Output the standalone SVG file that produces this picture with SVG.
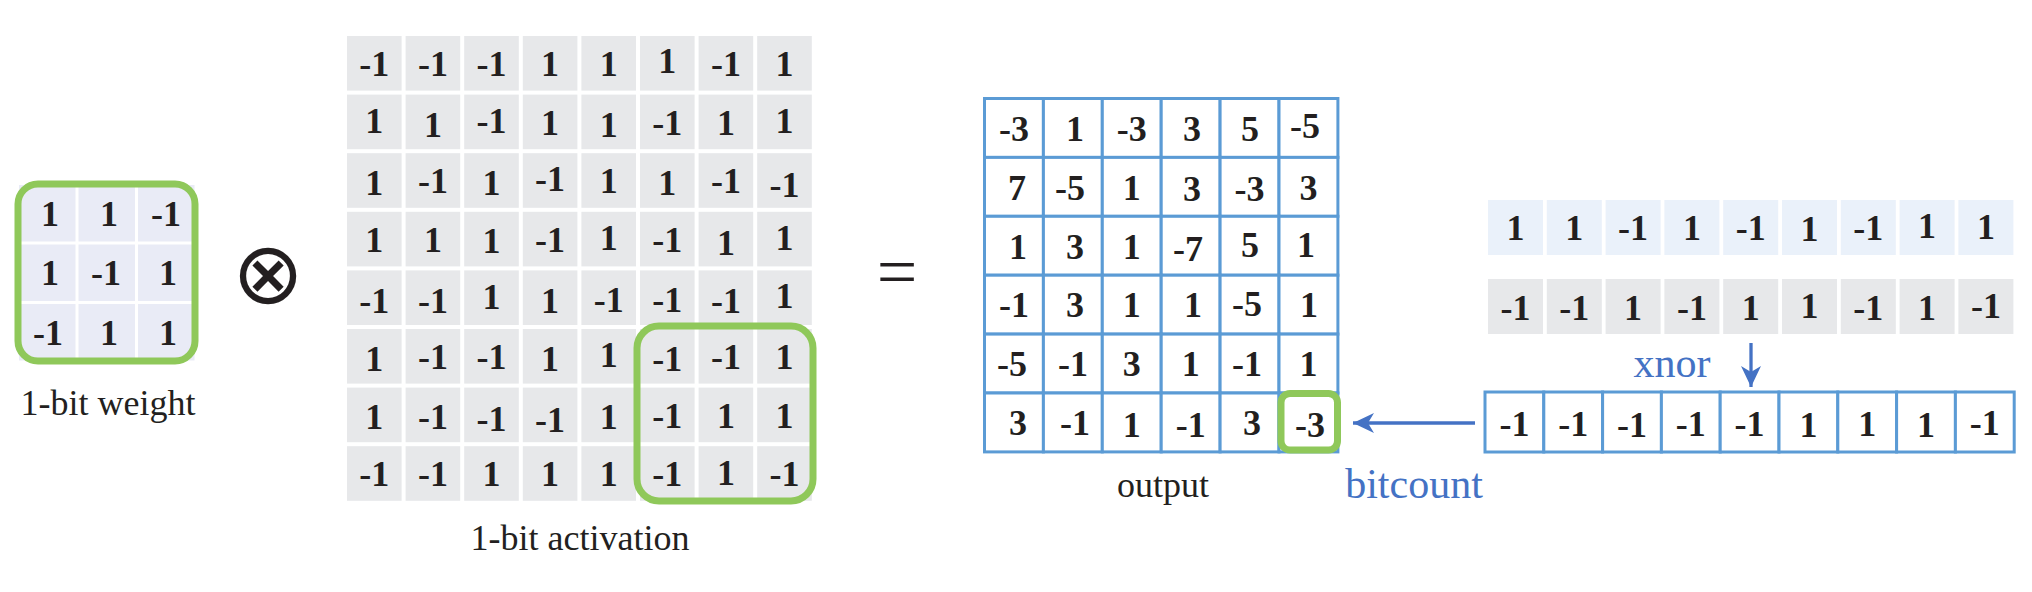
<svg xmlns="http://www.w3.org/2000/svg" width="2032" height="592" viewBox="0 0 2032 592">
<style>
.n{font-family:"Liberation Serif","Times New Roman",serif;font-weight:bold;font-size:36px;fill:#231f20;text-anchor:middle}
.lbl{font-family:"Liberation Serif","Times New Roman",serif;font-size:36px;fill:#231f20;text-anchor:middle}
.blue{font-family:"Liberation Serif","Times New Roman",serif;font-size:42px;fill:#4472c4;text-anchor:middle}
.cw{fill:#e9ebf6}
.ca{fill:#e7e8ea}
.cb{fill:#eaf1fa}
.co{fill:#ffffff;stroke:#5b9bd5;stroke-width:3}
.g{fill:none;stroke:#8fc85a;stroke-width:7}
.arr{fill:none;stroke:#4472c4;stroke-width:3.3}
</style>
<defs>
<marker id="ah" markerUnits="userSpaceOnUse" markerWidth="24" markerHeight="24" viewBox="-22 -12 24 24" refX="0" refY="0" orient="auto">
<path d="M0,0 L-21,-10 L-15,0 L-21,10 Z" fill="#4472c4"/>
</marker>
</defs>
<rect width="2032" height="592" fill="#ffffff"/>

<g id="weight">
<rect class="cw" x="19" y="185" width="56.5" height="56.5"/><rect class="cw" x="78.5" y="185" width="56.5" height="56.5"/><rect class="cw" x="138" y="185" width="56.5" height="56.5"/>
<rect class="cw" x="19" y="244.5" width="56.5" height="56.5"/><rect class="cw" x="78.5" y="244.5" width="56.5" height="56.5"/><rect class="cw" x="138" y="244.5" width="56.5" height="56.5"/>
<rect class="cw" x="19" y="304" width="56.5" height="56.5"/><rect class="cw" x="78.5" y="304" width="56.5" height="56.5"/><rect class="cw" x="138" y="304" width="56.5" height="56.5"/>
<text class="n" x="50" y="225.5">1</text><text class="n" x="109" y="225.5">1</text><text class="n" x="166" y="225.5">-1</text>
<text class="n" x="50" y="285">1</text><text class="n" x="106" y="285">-1</text><text class="n" x="168" y="285">1</text>
<text class="n" x="48" y="344.5">-1</text><text class="n" x="109" y="344.5">1</text><text class="n" x="168" y="344.5">1</text>
<rect class="g" x="18" y="184" width="177" height="177" rx="20"/>
<text class="lbl" x="108" y="415">1-bit weight</text>
</g>

<g id="otimes">
<text x="268" y="303" style="font-family:'DejaVu Sans',sans-serif;font-size:86px;fill:#231f20;text-anchor:middle">⊗</text>
</g>

<g id="activation">
<rect class="ca" x="347" y="36" width="54.6" height="54.6"/><rect class="ca" x="405.6" y="36" width="54.6" height="54.6"/><rect class="ca" x="464.2" y="36" width="54.6" height="54.6"/><rect class="ca" x="522.8" y="36" width="54.6" height="54.6"/><rect class="ca" x="581.4" y="36" width="54.6" height="54.6"/><rect class="ca" x="640" y="36" width="54.6" height="54.6"/><rect class="ca" x="698.6" y="36" width="54.6" height="54.6"/><rect class="ca" x="757.2" y="36" width="54.6" height="54.6"/>
<rect class="ca" x="347" y="94.6" width="54.6" height="54.6"/><rect class="ca" x="405.6" y="94.6" width="54.6" height="54.6"/><rect class="ca" x="464.2" y="94.6" width="54.6" height="54.6"/><rect class="ca" x="522.8" y="94.6" width="54.6" height="54.6"/><rect class="ca" x="581.4" y="94.6" width="54.6" height="54.6"/><rect class="ca" x="640" y="94.6" width="54.6" height="54.6"/><rect class="ca" x="698.6" y="94.6" width="54.6" height="54.6"/><rect class="ca" x="757.2" y="94.6" width="54.6" height="54.6"/>
<rect class="ca" x="347" y="153.2" width="54.6" height="54.6"/><rect class="ca" x="405.6" y="153.2" width="54.6" height="54.6"/><rect class="ca" x="464.2" y="153.2" width="54.6" height="54.6"/><rect class="ca" x="522.8" y="153.2" width="54.6" height="54.6"/><rect class="ca" x="581.4" y="153.2" width="54.6" height="54.6"/><rect class="ca" x="640" y="153.2" width="54.6" height="54.6"/><rect class="ca" x="698.6" y="153.2" width="54.6" height="54.6"/><rect class="ca" x="757.2" y="153.2" width="54.6" height="54.6"/>
<rect class="ca" x="347" y="211.8" width="54.6" height="54.6"/><rect class="ca" x="405.6" y="211.8" width="54.6" height="54.6"/><rect class="ca" x="464.2" y="211.8" width="54.6" height="54.6"/><rect class="ca" x="522.8" y="211.8" width="54.6" height="54.6"/><rect class="ca" x="581.4" y="211.8" width="54.6" height="54.6"/><rect class="ca" x="640" y="211.8" width="54.6" height="54.6"/><rect class="ca" x="698.6" y="211.8" width="54.6" height="54.6"/><rect class="ca" x="757.2" y="211.8" width="54.6" height="54.6"/>
<rect class="ca" x="347" y="270.4" width="54.6" height="54.6"/><rect class="ca" x="405.6" y="270.4" width="54.6" height="54.6"/><rect class="ca" x="464.2" y="270.4" width="54.6" height="54.6"/><rect class="ca" x="522.8" y="270.4" width="54.6" height="54.6"/><rect class="ca" x="581.4" y="270.4" width="54.6" height="54.6"/><rect class="ca" x="640" y="270.4" width="54.6" height="54.6"/><rect class="ca" x="698.6" y="270.4" width="54.6" height="54.6"/><rect class="ca" x="757.2" y="270.4" width="54.6" height="54.6"/>
<rect class="ca" x="347" y="329" width="54.6" height="54.6"/><rect class="ca" x="405.6" y="329" width="54.6" height="54.6"/><rect class="ca" x="464.2" y="329" width="54.6" height="54.6"/><rect class="ca" x="522.8" y="329" width="54.6" height="54.6"/><rect class="ca" x="581.4" y="329" width="54.6" height="54.6"/><rect class="ca" x="640" y="329" width="54.6" height="54.6"/><rect class="ca" x="698.6" y="329" width="54.6" height="54.6"/><rect class="ca" x="757.2" y="329" width="54.6" height="54.6"/>
<rect class="ca" x="347" y="387.6" width="54.6" height="54.6"/><rect class="ca" x="405.6" y="387.6" width="54.6" height="54.6"/><rect class="ca" x="464.2" y="387.6" width="54.6" height="54.6"/><rect class="ca" x="522.8" y="387.6" width="54.6" height="54.6"/><rect class="ca" x="581.4" y="387.6" width="54.6" height="54.6"/><rect class="ca" x="640" y="387.6" width="54.6" height="54.6"/><rect class="ca" x="698.6" y="387.6" width="54.6" height="54.6"/><rect class="ca" x="757.2" y="387.6" width="54.6" height="54.6"/>
<rect class="ca" x="347" y="446.2" width="54.6" height="54.6"/><rect class="ca" x="405.6" y="446.2" width="54.6" height="54.6"/><rect class="ca" x="464.2" y="446.2" width="54.6" height="54.6"/><rect class="ca" x="522.8" y="446.2" width="54.6" height="54.6"/><rect class="ca" x="581.4" y="446.2" width="54.6" height="54.6"/><rect class="ca" x="640" y="446.2" width="54.6" height="54.6"/><rect class="ca" x="698.6" y="446.2" width="54.6" height="54.6"/><rect class="ca" x="757.2" y="446.2" width="54.6" height="54.6"/>

<text class="n" x="374.3" y="76">-1</text><text class="n" x="432.9" y="76">-1</text><text class="n" x="491.5" y="76">-1</text><text class="n" x="550.1" y="76">1</text><text class="n" x="608.7" y="76">1</text><text class="n" x="667.3" y="72.7">1</text><text class="n" x="725.9" y="76">-1</text><text class="n" x="784.5" y="76">1</text>
<text class="n" x="374.3" y="132.7">1</text><text class="n" x="432.9" y="136.7">1</text><text class="n" x="491.5" y="132.7">-1</text><text class="n" x="550.1" y="134.6">1</text><text class="n" x="608.7" y="136.7">1</text><text class="n" x="667.3" y="134.6">-1</text><text class="n" x="725.9" y="134.6">1</text><text class="n" x="784.5" y="132.7">1</text>
<text class="n" x="374.3" y="194.7">1</text><text class="n" x="432.9" y="193.2">-1</text><text class="n" x="491.5" y="194.7">1</text><text class="n" x="550.1" y="190.7">-1</text><text class="n" x="608.7" y="193.2">1</text><text class="n" x="667.3" y="194.7">1</text><text class="n" x="725.9" y="193.2">-1</text><text class="n" x="784.5" y="196.7">-1</text>
<text class="n" x="374.3" y="251.8">1</text><text class="n" x="432.9" y="251.8">1</text><text class="n" x="491.5" y="252.7">1</text><text class="n" x="550.1" y="251.8">-1</text><text class="n" x="608.7" y="249.7">1</text><text class="n" x="667.3" y="251.8">-1</text><text class="n" x="725.9" y="254.7">1</text><text class="n" x="784.5" y="249.7">1</text>
<text class="n" x="374.3" y="312.7">-1</text><text class="n" x="432.9" y="312.7">-1</text><text class="n" x="491.5" y="308.7">1</text><text class="n" x="550.1" y="312.7">1</text><text class="n" x="608.7" y="311.7">-1</text><text class="n" x="667.3" y="311.7">-1</text><text class="n" x="725.9" y="312.7">-1</text><text class="n" x="784.5" y="307.7">1</text>
<text class="n" x="374.3" y="370.7">1</text><text class="n" x="432.9" y="369">-1</text><text class="n" x="491.5" y="369">-1</text><text class="n" x="550.1" y="370.7">1</text><text class="n" x="608.7" y="366.7">1</text><text class="n" x="667.3" y="370.7">-1</text><text class="n" x="725.9" y="369">-1</text><text class="n" x="784.5" y="369">1</text>
<text class="n" x="374.3" y="428.7">1</text><text class="n" x="432.9" y="428.7">-1</text><text class="n" x="491.5" y="430.7">-1</text><text class="n" x="550.1" y="431.7">-1</text><text class="n" x="608.7" y="428.7">1</text><text class="n" x="667.3" y="427.6">-1</text><text class="n" x="725.9" y="427.6">1</text><text class="n" x="784.5" y="427.6">1</text>
<text class="n" x="374.3" y="486.2">-1</text><text class="n" x="432.9" y="486.2">-1</text><text class="n" x="491.5" y="486.2">1</text><text class="n" x="550.1" y="486.2">1</text><text class="n" x="608.7" y="486.2">1</text><text class="n" x="667.3" y="486.2">-1</text><text class="n" x="725.9" y="484.7">1</text><text class="n" x="784.5" y="486.2">-1</text>
<rect class="g" x="637" y="326" width="176" height="175" rx="22"/>
<text class="lbl" x="580" y="550">1-bit activation</text>
</g>

<g id="equals">
<text x="897" y="296" style="font-family:'Liberation Serif','Times New Roman',serif;font-size:72px;fill:#231f20;text-anchor:middle">=</text>
</g>

<g id="output">
<rect class="co" x="984.5" y="98.5" width="58.9" height="58.9"/><rect class="co" x="1043.4" y="98.5" width="58.9" height="58.9"/><rect class="co" x="1102.3" y="98.5" width="58.9" height="58.9"/><rect class="co" x="1161.2" y="98.5" width="58.9" height="58.9"/><rect class="co" x="1220.1" y="98.5" width="58.9" height="58.9"/><rect class="co" x="1279" y="98.5" width="58.9" height="58.9"/>
<rect class="co" x="984.5" y="157.4" width="58.9" height="58.9"/><rect class="co" x="1043.4" y="157.4" width="58.9" height="58.9"/><rect class="co" x="1102.3" y="157.4" width="58.9" height="58.9"/><rect class="co" x="1161.2" y="157.4" width="58.9" height="58.9"/><rect class="co" x="1220.1" y="157.4" width="58.9" height="58.9"/><rect class="co" x="1279" y="157.4" width="58.9" height="58.9"/>
<rect class="co" x="984.5" y="216.3" width="58.9" height="58.9"/><rect class="co" x="1043.4" y="216.3" width="58.9" height="58.9"/><rect class="co" x="1102.3" y="216.3" width="58.9" height="58.9"/><rect class="co" x="1161.2" y="216.3" width="58.9" height="58.9"/><rect class="co" x="1220.1" y="216.3" width="58.9" height="58.9"/><rect class="co" x="1279" y="216.3" width="58.9" height="58.9"/>
<rect class="co" x="984.5" y="275.2" width="58.9" height="58.9"/><rect class="co" x="1043.4" y="275.2" width="58.9" height="58.9"/><rect class="co" x="1102.3" y="275.2" width="58.9" height="58.9"/><rect class="co" x="1161.2" y="275.2" width="58.9" height="58.9"/><rect class="co" x="1220.1" y="275.2" width="58.9" height="58.9"/><rect class="co" x="1279" y="275.2" width="58.9" height="58.9"/>
<rect class="co" x="984.5" y="334.1" width="58.9" height="58.9"/><rect class="co" x="1043.4" y="334.1" width="58.9" height="58.9"/><rect class="co" x="1102.3" y="334.1" width="58.9" height="58.9"/><rect class="co" x="1161.2" y="334.1" width="58.9" height="58.9"/><rect class="co" x="1220.1" y="334.1" width="58.9" height="58.9"/><rect class="co" x="1279" y="334.1" width="58.9" height="58.9"/>
<rect class="co" x="984.5" y="393" width="58.9" height="58.9"/><rect class="co" x="1043.4" y="393" width="58.9" height="58.9"/><rect class="co" x="1102.3" y="393" width="58.9" height="58.9"/><rect class="co" x="1161.2" y="393" width="58.9" height="58.9"/><rect class="co" x="1220.1" y="393" width="58.9" height="58.9"/><rect class="co" x="1279" y="393" width="58.9" height="58.9"/>
<text class="n" x="1014" y="140.7">-3</text><text class="n" x="1075" y="140.7">1</text><text class="n" x="1131.8" y="140.7">-3</text><text class="n" x="1192" y="140.7">3</text><text class="n" x="1250" y="140.7">5</text><text class="n" x="1305" y="137.7">-5</text>
<text class="n" x="1017" y="199.6">7</text><text class="n" x="1070" y="199.6">-5</text><text class="n" x="1131.8" y="199.6">1</text><text class="n" x="1192" y="200.7">3</text><text class="n" x="1249.6" y="200.7">-3</text><text class="n" x="1308.5" y="199.6">3</text>
<text class="n" x="1018" y="258.7">1</text><text class="n" x="1075" y="258.7">3</text><text class="n" x="1131.8" y="258.7">1</text><text class="n" x="1188" y="260.7">-7</text><text class="n" x="1250" y="256.7">5</text><text class="n" x="1306" y="256.7">1</text>
<text class="n" x="1014" y="317.4">-1</text><text class="n" x="1075" y="317.4">3</text><text class="n" x="1131.8" y="317.4">1</text><text class="n" x="1193" y="317.4">1</text><text class="n" x="1247" y="315.7">-5</text><text class="n" x="1309" y="317.4">1</text>
<text class="n" x="1012" y="376.3">-5</text><text class="n" x="1072.9" y="376.3">-1</text><text class="n" x="1131.8" y="376.3">3</text><text class="n" x="1190.7" y="376.3">1</text><text class="n" x="1247" y="376.3">-1</text><text class="n" x="1308.5" y="376.3">1</text>
<text class="n" x="1018" y="435.2">3</text><text class="n" x="1075" y="435.2">-1</text><text class="n" x="1131.8" y="436.7">1</text><text class="n" x="1190.7" y="436.7">-1</text><text class="n" x="1252" y="435.2">3</text><text class="n" x="1310" y="436.7">-3</text>
<rect class="g" x="1281" y="393.5" width="56.5" height="56.5" rx="9"/>
<text class="lbl" x="1163" y="497">output</text>
</g>

<g id="vector-weight">
<rect class="cb" x="1488" y="200" width="55" height="55"/><rect class="cb" x="1546.8" y="200" width="55" height="55"/><rect class="cb" x="1605.6" y="200" width="55" height="55"/><rect class="cb" x="1664.4" y="200" width="55" height="55"/><rect class="cb" x="1723.2" y="200" width="55" height="55"/><rect class="cb" x="1782" y="200" width="55" height="55"/><rect class="cb" x="1840.8" y="200" width="55" height="55"/><rect class="cb" x="1899.6" y="200" width="55" height="55"/><rect class="cb" x="1958.4" y="200" width="55" height="55"/>
<text class="n" x="1515.5" y="240.2">1</text><text class="n" x="1574.3" y="240.2">1</text><text class="n" x="1633.1" y="240.2">-1</text><text class="n" x="1691.9" y="240.2">1</text><text class="n" x="1750.7" y="240.2">-1</text><text class="n" x="1809.5" y="241.2">1</text><text class="n" x="1868.3" y="240.2">-1</text><text class="n" x="1927.1" y="238.2">1</text><text class="n" x="1985.9" y="239.2">1</text>
</g>

<g id="vector-activation">
<rect class="ca" x="1488" y="279" width="55" height="55"/><rect class="ca" x="1546.8" y="279" width="55" height="55"/><rect class="ca" x="1605.6" y="279" width="55" height="55"/><rect class="ca" x="1664.4" y="279" width="55" height="55"/><rect class="ca" x="1723.2" y="279" width="55" height="55"/><rect class="ca" x="1782" y="279" width="55" height="55"/><rect class="ca" x="1840.8" y="279" width="55" height="55"/><rect class="ca" x="1899.6" y="279" width="55" height="55"/><rect class="ca" x="1958.4" y="279" width="55" height="55"/>
<text class="n" x="1515.5" y="319.7">-1</text><text class="n" x="1574.3" y="319.7">-1</text><text class="n" x="1633.1" y="319.7">1</text><text class="n" x="1691.9" y="319.7">-1</text><text class="n" x="1750.7" y="319.7">1</text><text class="n" x="1809.5" y="317.7">1</text><text class="n" x="1868.3" y="319.7">-1</text><text class="n" x="1927.1" y="319.7">1</text><text class="n" x="1985.9" y="317.7">-1</text>
</g>

<g id="vector-xnor">
<rect class="co" x="1485" y="392" width="58.8" height="60"/><rect class="co" x="1543.8" y="392" width="58.8" height="60"/><rect class="co" x="1602.6" y="392" width="58.8" height="60"/><rect class="co" x="1661.4" y="392" width="58.8" height="60"/><rect class="co" x="1720.2" y="392" width="58.8" height="60"/><rect class="co" x="1779" y="392" width="58.8" height="60"/><rect class="co" x="1837.8" y="392" width="58.8" height="60"/><rect class="co" x="1896.6" y="392" width="58.8" height="60"/><rect class="co" x="1955.4" y="392" width="58.8" height="60"/>
<text class="n" x="1514.4" y="435.7">-1</text><text class="n" x="1573.2" y="435.7">-1</text><text class="n" x="1632" y="436.7">-1</text><text class="n" x="1690.8" y="435.7">-1</text><text class="n" x="1749.6" y="435.7">-1</text><text class="n" x="1808.4" y="436.7">1</text><text class="n" x="1867.2" y="435.7">1</text><text class="n" x="1926" y="436.7">1</text><text class="n" x="1984.8" y="434.7">-1</text>
</g>

<g id="connectors">
<line class="arr" x1="1475" y1="423" x2="1353" y2="423" marker-end="url(#ah)"/>
<line class="arr" x1="1751" y1="343" x2="1751" y2="387" marker-end="url(#ah)"/>
</g>

<g id="op-labels">
<text class="blue" x="1672" y="377">xnor</text>
<text class="blue" x="1414" y="498">bitcount</text>
</g>
</svg>
